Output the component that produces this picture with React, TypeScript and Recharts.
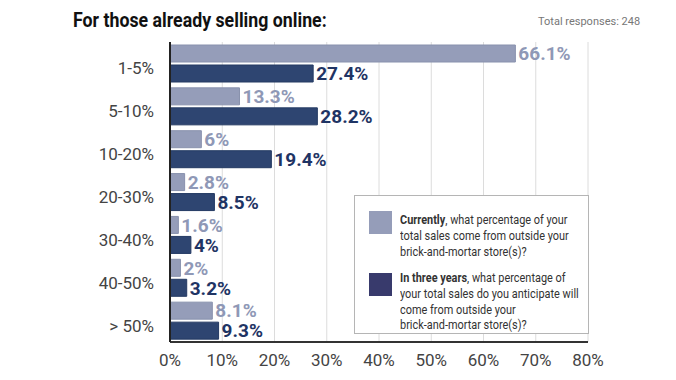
import { Bar, BarChart, CartesianGrid, LabelList, XAxis, YAxis } from "recharts";

const categories = ["1-5%", "5-10%", "10-20%", "20-30%", "30-40%", "40-50%", "> 50%"];
const currently = [66.1, 13.3, 6, 2.8, 1.6, 2, 8.1];
const inThreeYears = [27.4, 28.2, 19.4, 8.5, 4, 3.2, 9.3];
const xTicks = [0, 10, 20, 30, 40, 50, 60, 70, 80];

const data = categories.map((name, i) => ({
  name,
  currently: currently[i],
  future: inThreeYears[i],
}));

const LIGHT = "#959db9";
const DARK = "#2e4571";
const FONT = "Roboto, 'Open Sans', sans-serif";

const fmt = (v: any) => `${v}%`;

function CategoryTick({ x, y, payload }: any) {
  return (
    <text x={x - 8} y={y + 5} dy={6} textAnchor="end" fill="#444" fontSize={17} fontFamily={FONT}>
      {payload.value}
    </text>
  );
}

function LegendBox() {
  const block = (top: number, color: string, swatchTop: number, bold: string, lines: string[]) => (
    <>
      <div
        style={{ position: "absolute", left: 14, top: swatchTop, width: 23, height: 23, background: color }}
      />
      <div
        style={{
          position: "absolute",
          left: 45,
          top,
          fontSize: 13,
          lineHeight: "15.8px",
          color: "#333",
          transform: "scaleX(0.84)",
          transformOrigin: "left top",
          whiteSpace: "nowrap",
        }}
      >
        {lines.map((l, i) => (
          <div key={i}>
            {i === 0 ? <b>{bold}</b> : null}
            {l}
          </div>
        ))}
      </div>
    </>
  );
  return (
    <div
      style={{
        position: "absolute",
        left: 354,
        top: 195,
        width: 235,
        height: 139,
        background: "#fff",
        border: "1px solid #b5b5b5",
        boxSizing: "border-box",
        fontFamily: FONT,
      }}
    >
      {block(16, LIGHT, 15, "Currently", [", what percentage of your", "total sales come from outside your", "brick-and-mortar store(s)?"])}
      {block(74, "#383a6c", 77, "In three years", [", what percentage of", "your total sales do you anticipate will", "come from outside your", "brick-and-mortar store(s)?"])}
    </div>
  );
}

export default function App() {
  return (
    <div style={{ position: "absolute", left: 0, top: 0, width: 676, height: 380, background: "#fff" }}>
      <div
        style={{
          position: "absolute",
          left: 73,
          top: 8,
          fontFamily: FONT,
          fontWeight: 700,
          fontSize: 21,
          color: "#111",
          whiteSpace: "nowrap",
          transform: "scaleX(0.845)",
          transformOrigin: "left top",
        }}
      >
        For those already selling online:
      </div>
      <div
        style={{
          position: "absolute",
          left: 538,
          top: 15,
          fontFamily: FONT,
          fontSize: 11,
          color: "#777",
          whiteSpace: "nowrap",
        }}
      >
        Total responses: 248
      </div>
      <BarChart
        width={676}
        height={380}
        data={data}
        layout="vertical"
        margin={{ top: 42, right: 88, bottom: 8, left: 0 }}
        barSize={17}
        barGap={3}
      >
        <CartesianGrid horizontal={false} stroke="#dcdcdc" />
        <XAxis
          type="number"
          domain={[0, 80]}
          ticks={xTicks}
          tickFormatter={fmt}
          axisLine={{ stroke: "#333", strokeWidth: 2 }}
          tickLine={false}
          tick={{ fill: "#444", fontSize: 17, fontFamily: FONT }}
          tickMargin={6}
          interval={0}
          height={30}
        />
        <YAxis
          type="category"
          dataKey="name"
          width={170}
          axisLine={{ stroke: "#222", strokeWidth: 2 }}
          tickLine={false}
          tick={<CategoryTick />}
        />
        <Bar dataKey="currently" fill={LIGHT} stroke="#8891ad" strokeWidth={1} isAnimationActive={false}>
          <LabelList
            dataKey="currently"
            position="right"
            offset={3}
            formatter={fmt}
            fill="#8f98b6"
            fontSize={19}
            fontWeight={700}
            fontFamily={FONT}
          />
        </Bar>
        <Bar dataKey="future" fill={DARK} stroke="#243a63" strokeWidth={1} isAnimationActive={false}>
          <LabelList
            dataKey="future"
            position="right"
            offset={3}
            formatter={fmt}
            fill="#1f3464"
            fontSize={19}
            fontWeight={700}
            fontFamily={FONT}
          />
        </Bar>
      </BarChart>
      <LegendBox />
    </div>
  );
}
